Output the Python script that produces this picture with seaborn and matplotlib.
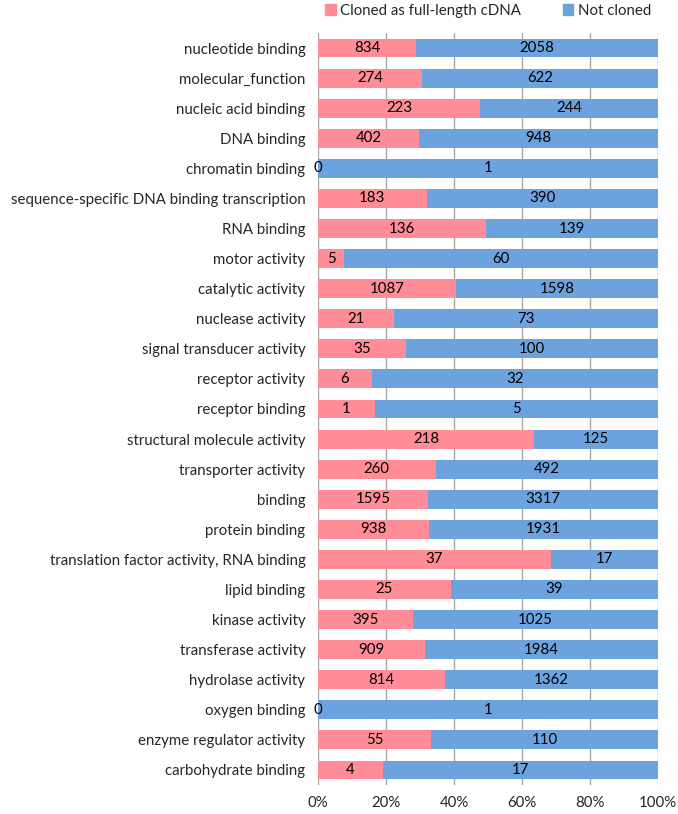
import pandas as pd
import matplotlib
matplotlib.use("Agg")
import matplotlib.pyplot as plt
import seaborn as sns
from matplotlib.patches import Patch

# GO term categories (top to bottom)
categories = [
    "nucleotide binding", "molecular_function", "nucleic acid binding", "DNA binding",
    "chromatin binding", "sequence-specific DNA binding transcription", "RNA binding",
    "motor activity", "catalytic activity", "nuclease activity", "signal transducer activity",
    "receptor activity", "receptor binding", "structural molecule activity",
    "transporter activity", "binding", "protein binding",
    "translation factor activity, RNA binding", "lipid binding", "kinase activity",
    "transferase activity", "hydrolase activity", "oxygen binding",
    "enzyme regulator activity", "carbohydrate binding",
]
cloned = [834, 274, 223, 402, 0, 183, 136, 5, 1087, 21, 35, 6, 1, 218, 260,
          1595, 938, 37, 25, 395, 909, 814, 0, 55, 4]
not_cloned = [2058, 622, 244, 948, 1, 390, 139, 60, 1598, 73, 100, 32, 5, 125, 492,
              3317, 1931, 17, 39, 1025, 1984, 1362, 1, 110, 17]
xticks = [0, 20, 40, 60, 80, 100]

pink = "#FF8C96"
blue = "#6CA3DF"

df = pd.DataFrame({"category": categories, "cloned": cloned, "not_cloned": not_cloned})
df["total"] = df["cloned"] + df["not_cloned"]
df["pct_cloned"] = df["cloned"] / df["total"] * 100
df["pct_full"] = 100.0

sns.set_style("white")
plt.rcParams["font.family"] = ["Lato", "DejaVu Sans"]
fs = 10.8

fig, ax = plt.subplots(figsize=(6.78, 8.14), dpi=100)
fig.subplots_adjust(left=0.469, right=0.9705, top=0.9595, bottom=0.0356)

# blue full bars underneath, pink share on top
sns.barplot(data=df, x="pct_full", y="category", color=blue, width=0.63,
            saturation=1, linewidth=0, ax=ax, zorder=2)
sns.barplot(data=df, x="pct_cloned", y="category", color=pink, width=0.63,
            saturation=1, linewidth=0, ax=ax, zorder=3)

for i, row in df.iterrows():
    p = row["pct_cloned"]
    ax.text(p / 2, i, str(row["cloned"]), ha="center", va="center",
            fontsize=fs, color="black", zorder=4)
    ax.text(p + (100 - p) / 2, i, str(row["not_cloned"]), ha="center", va="center",
            fontsize=fs, color="black", zorder=4)

ax.set_xlim(0, 100)
ax.set_xticks(xticks)
ax.set_xticklabels([f"{t}%" for t in xticks], fontsize=fs)
ax.tick_params(axis="y", labelsize=fs, length=0, pad=9)
ax.tick_params(axis="x", length=0, pad=8)
ax.set_xlabel("")
ax.set_ylabel("")
ax.grid(axis="x", color="#A6A6A6", linewidth=1, zorder=0)
ax.set_axisbelow(True)
for s in ax.spines.values():
    s.set_visible(False)

handles = [Patch(color=pink, label="Cloned as full-length cDNA"),
           Patch(color=blue, label="Not cloned")]
fig.legend(handles=handles, loc="upper center", bbox_to_anchor=(0.72, 1.012), ncol=2,
           frameon=False, fontsize=fs, handlelength=0.7, handleheight=0.7,
           handletextpad=0.3, columnspacing=2.8)

plt.savefig("out.png", dpi=100)
